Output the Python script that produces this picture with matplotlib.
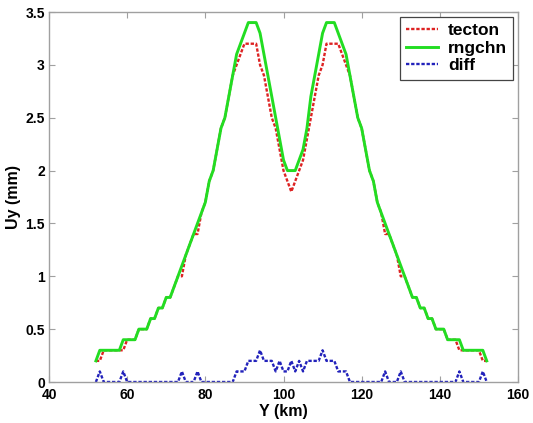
import numpy as np
import matplotlib
matplotlib.use("Agg")
import matplotlib.pyplot as plt

plt.rcParams['font.family'] = ['Liberation Sans', 'DejaVu Sans']
plt.rcParams['lines.scale_dashes'] = False

# Data: Y position (km), 1 km spacing from 52 to 152
y_km = np.arange(52, 153, 1)

rngchn = [
    0.2, 0.3, 0.3, 0.3, 0.3, 0.3, 0.3, 0.4, 0.4, 0.4,   # 52-61
    0.4, 0.5, 0.5, 0.5, 0.6, 0.6, 0.7, 0.7, 0.8, 0.8,   # 62-71
    0.9, 1.0, 1.1, 1.2, 1.3, 1.4, 1.5, 1.6, 1.7, 1.9,   # 72-81
    2.0, 2.2, 2.4, 2.5, 2.7, 2.9, 3.1, 3.2, 3.3, 3.4,   # 82-91
    3.4, 3.4, 3.3, 3.1, 2.9, 2.7, 2.5, 2.3, 2.1, 2.0,   # 92-101
    2.0, 2.0, 2.1, 2.2, 2.4, 2.7, 2.9, 3.1, 3.3, 3.4,   # 102-111
    3.4, 3.4, 3.3, 3.2, 3.1, 2.9, 2.7, 2.5, 2.4, 2.2,   # 112-121
    2.0, 1.9, 1.7, 1.6, 1.5, 1.4, 1.3, 1.2, 1.1, 1.0,   # 122-131
    0.9, 0.8, 0.8, 0.7, 0.7, 0.6, 0.6, 0.5, 0.5, 0.5,   # 132-141
    0.4, 0.4, 0.4, 0.4, 0.3, 0.3, 0.3, 0.3, 0.3, 0.3,   # 142-151
    0.2,                                                # 152
]

tecton = [
    0.2, 0.2, 0.3, 0.3, 0.3, 0.3, 0.3, 0.3, 0.4, 0.4,   # 52-61
    0.4, 0.5, 0.5, 0.5, 0.6, 0.6, 0.7, 0.7, 0.8, 0.8,   # 62-71
    0.9, 1.0, 1.0, 1.2, 1.3, 1.4, 1.4, 1.6, 1.7, 1.9,   # 72-81
    2.0, 2.2, 2.4, 2.5, 2.7, 2.9, 3.0, 3.1, 3.2, 3.2,   # 82-91
    3.2, 3.2, 3.0, 2.9, 2.7, 2.5, 2.4, 2.2, 2.0, 1.9,   # 92-101
    1.8, 1.9, 2.0, 2.1, 2.3, 2.5, 2.7, 2.9, 3.0, 3.2,   # 102-111
    3.2, 3.2, 3.2, 3.1, 3.0, 2.9, 2.7, 2.5, 2.4, 2.2,   # 112-121
    2.0, 1.9, 1.7, 1.6, 1.4, 1.4, 1.3, 1.2, 1.0, 1.0,   # 122-131
    0.9, 0.8, 0.8, 0.7, 0.7, 0.6, 0.6, 0.5, 0.5, 0.5,   # 132-141
    0.4, 0.4, 0.4, 0.3, 0.3, 0.3, 0.3, 0.3, 0.3, 0.2,   # 142-151
    0.2,                                                # 152
]

diff = [
    0.0, 0.1, 0.0, 0.0, 0.0, 0.0, 0.0, 0.1, 0.0, 0.0,   # 52-61
    0.0, 0.0, 0.0, 0.0, 0.0, 0.0, 0.0, 0.0, 0.0, 0.0,   # 62-71
    0.0, 0.0, 0.1, 0.0, 0.0, 0.0, 0.1, 0.0, 0.0, 0.0,   # 72-81
    0.0, 0.0, 0.0, 0.0, 0.0, 0.0, 0.1, 0.1, 0.1, 0.2,   # 82-91
    0.2, 0.2, 0.3, 0.2, 0.2, 0.2, 0.1, 0.2, 0.1, 0.1,   # 92-101
    0.2, 0.1, 0.2, 0.1, 0.2, 0.2, 0.2, 0.2, 0.3, 0.2,   # 102-111
    0.2, 0.2, 0.1, 0.1, 0.1, 0.0, 0.0, 0.0, 0.0, 0.0,   # 112-121
    0.0, 0.0, 0.0, 0.0, 0.1, 0.0, 0.0, 0.0, 0.1, 0.0,   # 122-131
    0.0, 0.0, 0.0, 0.0, 0.0, 0.0, 0.0, 0.0, 0.0, 0.0,   # 132-141
    0.0, 0.0, 0.0, 0.1, 0.0, 0.0, 0.0, 0.0, 0.0, 0.1,   # 142-151
    0.0,                                                # 152
]

x_ticks = [40, 60, 80, 100, 120, 140, 160]
y_ticks = [0, 0.5, 1, 1.5, 2, 2.5, 3, 3.5]
y_ticklabels = ["0", "0.5", "1", "1.5", "2", "2.5", "3", "3.5"]

fig = plt.figure(figsize=(5.33, 4.23), dpi=100)
ax = fig.add_axes([49/533, 41/423, 469/533, 370/423])

dash = (0, (2.4, 1.3))
ax.plot(y_km, tecton, color='#dd2222', lw=1.7, linestyle=dash, label='tecton')
ax.plot(y_km, rngchn, color='#22dd22', lw=2.1, linestyle='-', label='rngchn')
ax.plot(y_km, diff, color='#2222bb', lw=1.7, linestyle=dash, label='diff')

ax.set_xlim(40, 160)
ax.set_ylim(0, 3.5)
ax.set_xticks(x_ticks)
ax.set_xticklabels([str(t) for t in x_ticks])
ax.set_yticks(y_ticks)
ax.set_yticklabels(y_ticklabels)

for s in ax.spines.values():
    s.set_color('#a0a0a0')
    s.set_linewidth(1.0)
ax.tick_params(direction='in', top=True, right=True, length=4, width=0.8,
               color='#a0a0a0', labelsize=10, pad=4)
for lab in ax.get_xticklabels() + ax.get_yticklabels():
    lab.set_fontweight('bold')
ax.tick_params(axis='y', pad=3)

ax.set_xlabel('Y (km)', fontsize=11.5, fontweight='bold', labelpad=2)
ax.set_ylabel('Uy (mm)', fontsize=11.5, fontweight='bold', labelpad=3)

leg = ax.legend(loc='upper right', prop={'weight': 'bold', 'size': 12.5},
                frameon=True, fancybox=False, borderpad=0.35, labelspacing=0.15,
                handlelength=1.8, handletextpad=0.6, borderaxespad=0.27)
leg.get_frame().set_edgecolor('#444444')
leg.get_frame().set_linewidth(0.9)
leg.get_frame().set_alpha(1)

fig.savefig('out.png', dpi=100)
